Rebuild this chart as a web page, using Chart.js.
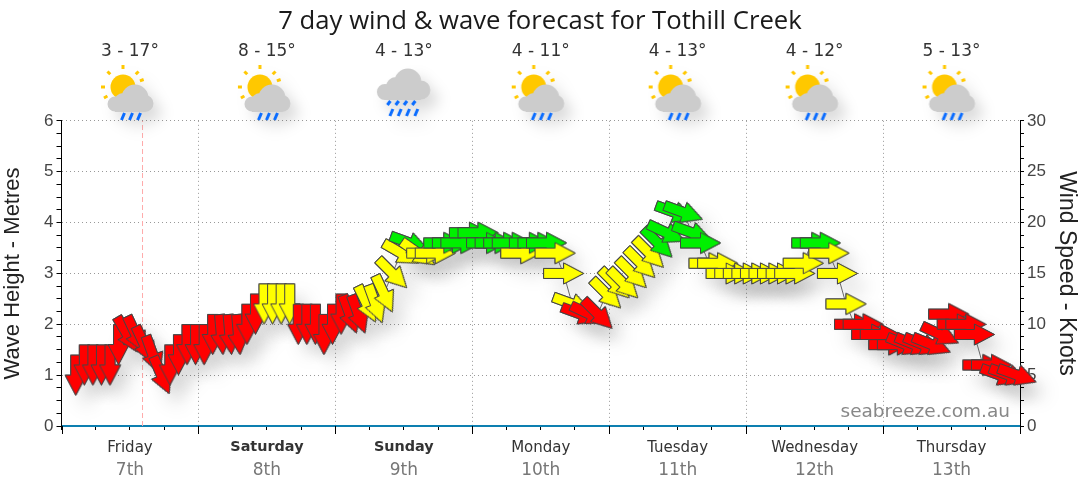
<!DOCTYPE html>
<html>
<head>
<meta charset="utf-8">
<title>7 day wind & wave forecast for Tothill Creek</title>
<script src="https://cdn.jsdelivr.net/npm/chart.js@4/dist/chart.umd.min.js"></script>
<style>
html, body { margin: 0; padding: 0; background: #fff; }
canvas { display: block; }
</style>
</head>
<body>
<canvas id="forecast" width="1080" height="490"></canvas>
<script>
var days = ["Friday", "Saturday", "Sunday", "Monday", "Tuesday", "Wednesday", "Thursday"];
var dates = ["7th", "8th", "9th", "10th", "11th", "12th", "13th"];
var boldDays = ["Saturday", "Sunday"];
var temps = ["3 - 17°", "8 - 15°", "4 - 13°", "4 - 11°", "4 - 13°", "4 - 12°", "5 - 13°"];
var heavyRainDays = ["Sunday"];

// hours since start of friday
var hours = [
    2.5, 4, 5.5, 7, 8.5, 10, 11.5, 13, 14.5, 16,
    17.5, 19, 20.5, 22, 23.5, 25, 26.5, 28, 29.5, 31,
    32.5, 34, 35.5, 37, 38.5, 40, 41.5, 43, 44.5, 46,
    47.5, 49, 50.5, 52, 53.5, 55, 56.5, 58, 59.5, 61,
    62.5, 64, 65.5, 67, 68.5, 70, 71.5, 73, 74.5, 76,
    77.5, 79, 80.5, 82, 83.5, 85, 86.5, 88, 89.5, 91,
    92.5, 94, 95.5, 97, 98.5, 100, 101.5, 103, 104.5, 106,
    107.5, 109, 110.5, 112, 113.5, 115, 116.5, 118, 119.5, 121,
    122.5, 124, 125.5, 127, 128.5, 130, 131.5, 133, 134.5, 136,
    137.5, 139, 140.5, 142, 143.5, 145, 146.5, 148, 149.5, 151,
    152.5, 154, 155.5, 157, 158.5, 160, 161.5, 163, 164.5, 166, 167.5
];

var knots = [
    5, 6, 6, 6, 6, 8, 9, 9, 8, 7,
    5, 6, 7, 8, 8, 8, 9, 9, 9, 9,
    10, 11, 12, 12, 12, 12, 10, 10, 10, 9,
    10, 11, 11, 11, 12, 12, 13, 15, 17, 18,
    17, 17, 17, 18, 18, 18, 19, 19, 18, 18,
    18, 18, 17, 18, 18, 18, 17, 15, 12, 11,
    11, 11, 13, 14, 14, 15, 16, 17, 18, 19,
    21, 21, 19, 18, 16, 16, 15, 15, 15, 15,
    15, 15, 15, 15, 15, 16, 18, 18, 17, 15,
    12, 10, 10, 9, 9, 8, 8, 8, 8, 8,
    8, 9, 11, 10, 10, 9, 6, 6, 5, 5, 5
];

// compass heading the arrow points to, 90 is east, 180 is south
var heading = [
    180, 180, 180, 180, 180, 180, 150, 155, 155, 160,
    157, 180, 180, 180, 180, 180, 180, 175, 175, 175,
    180, 180, 180, 180, 180, 180, 180, 180, 180, 180,
    180, 180, 160, 160, 154, 160, 155, 135, 120, 110,
    125, 90, 90, 90, 90, 90, 90, 90, 90, 90,
    90, 90, 90, 90, 90, 90, 90, 90, 110, 110,
    115, 135, 135, 135, 135, 135, 135, 135, 135, 115,
    110, 110, 110, 90, 90, 90, 90, 90, 90, 90,
    90, 90, 90, 90, 90, 90, 90, 90, 90, 90,
    90, 90, 90, 90, 90, 90, 90, 112, 112, 112,
    112, 115, 90, 90, 90, 90, 90, 90, 110, 110, 110
];

var nowHour = 14.2;

function makeArrow(color)
{
    var c = document.createElement("canvas");
    c.width = 47;
    c.height = 27;
    var g = c.getContext("2d");
    g.translate(23.5, 13.5);
    g.beginPath();
    g.moveTo(-20, -5);
    g.lineTo(0, -5);
    g.lineTo(0, -10.5);
    g.lineTo(20, 0);
    g.lineTo(0, 10.5);
    g.lineTo(0, 5);
    g.lineTo(-20, 5);
    g.closePath();
    g.fillStyle = color;
    g.fill();
    g.strokeStyle = "#444";
    g.lineWidth = 1;
    g.stroke();
    return c;
}

var redArrow = makeArrow("#ff0000");
var yellowArrow = makeArrow("#ffff00");
var greenArrow = makeArrow("#00f000");

function arrowStyle(ctx)
{
    var k = knots[ctx.dataIndex];
    if (k >= 18) return greenArrow;
    if (k >= 12) return yellowArrow;
    return redArrow;
}

function arrowRotation(ctx)
{
    return heading[ctx.dataIndex] - 90;
}

function circle(g, x, y, r)
{
    g.moveTo(x + r, y);
    g.arc(x, y, r, 0, Math.PI * 2);
}

function rain(g, x, y, len)
{
    g.moveTo(x + 1.5, y);
    g.lineTo(x - 1.5, y + len);
}

// icons are 70x70, middle of the canvas is the middle of the day column
function makeIcon(heavy)
{
    var c = document.createElement("canvas");
    c.width = 70;
    c.height = 70;
    var g = c.getContext("2d");
    g.translate(35, 35);
    var i;
    if (heavy) {
        g.fillStyle = "#cccccc";
        g.beginPath();
        circle(g, 4, -12, 13.5);
        circle(g, -8, -7, 10);
        circle(g, -19, -2, 8);
        circle(g, 17, -4, 9.5);
        g.rect(-19, -9, 36, 15);
        g.fill();
        g.strokeStyle = "#0a6cff";
        g.lineWidth = 3;
        g.beginPath();
        for (i = 0; i < 4; i++) {
            rain(g, -15 + i * 8.3, 7, 4);
            rain(g, -12.5 + i * 8.3, 15, 7);
        }
        g.stroke();
    } else {
        g.fillStyle = "#ffc800";
        g.beginPath();
        circle(g, -7, -8, 12.5);
        g.fill();
        g.strokeStyle = "#ffc800";
        g.lineWidth = 3;
        g.beginPath();
        var rays = [180, 225, 270, 315, 340, 150];
        for (i = 0; i < rays.length; i++) {
            var a = rays[i] * Math.PI / 180;
            g.moveTo(-7 + Math.cos(a) * 18, -8 + Math.sin(a) * 18);
            g.lineTo(-7 + Math.cos(a) * 22, -8 + Math.sin(a) * 22);
        }
        g.stroke();
        g.fillStyle = "#cccccc";
        g.beginPath();
        circle(g, 5, 3, 13.5);
        circle(g, -7, 7, 9);
        circle(g, -15, 9, 7.5);
        circle(g, 15, 8.5, 8.5);
        g.rect(-15, 6, 30, 11);
        g.fill();
        g.strokeStyle = "#0a6cff";
        g.lineWidth = 3;
        g.beginPath();
        for (i = 0; i < 3; i++) {
            rain(g, -7 + i * 8, 18, 7);
        }
        g.stroke();
    }
    return c;
}

var sunIcon = makeIcon(false);
var rainIcon = makeIcon(true);

var extras = {
    id: "extras",
    afterDraw: function(chart) {
        var g = chart.ctx;
        var x = chart.scales.x;
        var bottom = chart.chartArea.bottom;
        var i;

        // long ticks on the day boundaries
        g.save();
        g.strokeStyle = "#000";
        g.lineWidth = 1;
        g.beginPath();
        for (i = 0; i <= days.length; i++) {
            var px = Math.round(x.getPixelForValue(i * 24)) + 0.5;
            g.moveTo(px, bottom);
            g.lineTo(px, bottom + 8);
        }
        g.stroke();
        g.restore();

        for (i = 0; i < days.length; i++) {
            var mid = x.getPixelForValue(i * 24 + 12);
            g.save();
            g.shadowColor = "rgba(0,0,0,0.14)";
            g.shadowBlur = 14;
            g.shadowOffsetX = 8;
            g.shadowOffsetY = 9;
            var heavy = heavyRainDays.indexOf(days[i]) >= 0;
            g.drawImage(heavy ? rainIcon : sunIcon, mid - 35, heavy ? 59 : 60);
            g.restore();

            g.fillStyle = "#333";
            g.font = "17px 'DejaVu Sans'";
            g.textAlign = "center";
            g.textBaseline = "alphabetic";
            g.fillText(temps[i], mid, 56);
        }

        g.fillStyle = "#888";
        g.font = "18.5px 'DejaVu Sans'";
        g.textAlign = "right";
        g.fillText("seabreeze.com.au", 1010, 417);
    }
};

var arrowShadow = {
    id: "arrowShadow",
    beforeDatasetDraw: function(chart, args) {
        if (chart.data.datasets[args.index].label != "shadow") return;
        var g = chart.ctx;
        g.save();
        g.shadowColor = "rgba(0,0,0,0.12)";
        g.shadowBlur = 18;
        g.shadowOffsetX = 11;
        g.shadowOffsetY = 13;
    },
    afterDatasetDraw: function(chart, args) {
        if (chart.data.datasets[args.index].label != "shadow") return;
        chart.ctx.restore();
    }
};

function points()
{
    var out = [];
    for (var i = 0; i < hours.length; i++) {
        out.push({ x: hours[i], y: knots[i] });
    }
    return out;
}

function dayGrid(c)
{
    if (!c.tick) return "transparent";
    var v = c.tick.value;
    return (v % 24 === 0 && v > 0 && v < 168) ? "#999" : "transparent";
}

function waveGrid(c)
{
    if (!c.tick) return "transparent";
    var v = c.tick.value;
    return (v % 1 === 0 && v > 0) ? "#999" : "transparent";
}

function dayFont(c)
{
    var d = c.tick ? days[(c.tick.value - 12) / 24] : "";
    var bold = boldDays.indexOf(d) >= 0;
    return {
        family: "'DejaVu Sans'",
        size: bold ? 14.4 : 15,
        weight: bold ? "bold" : "normal"
    };
}

var chart = new Chart(document.getElementById("forecast"), {
    type: "scatter",
    data: {
        datasets: [
            {
                label: "arrows",
                order: 1,
                data: points(),
                yAxisID: "knots",
                showLine: true,
                clip: false,
                borderColor: "#666",
                borderWidth: 1,
                pointRadius: 20,
                pointStyle: arrowStyle,
                pointRotation: arrowRotation
            },
            {
                label: "shadow",
                order: 2,
                data: points(),
                yAxisID: "knots",
                showLine: false,
                clip: false,
                pointRadius: 20,
                pointStyle: arrowStyle,
                pointRotation: arrowRotation
            },
            {
                label: "now",
                order: 3,
                data: [{ x: nowHour, y: 0 }, { x: nowHour, y: 30 }],
                yAxisID: "knots",
                showLine: true,
                borderColor: "#ffaaaa",
                borderWidth: 1,
                borderDash: [5, 3],
                pointRadius: 0
            }
        ]
    },
    plugins: [extras, arrowShadow],
    options: {
        responsive: false,
        animation: false,
        events: [],
        layout: { padding: { bottom: 8 } },
        plugins: {
            legend: { display: false },
            tooltip: { enabled: false },
            title: {
                display: true,
                text: "7 day wind & wave forecast for Tothill Creek",
                color: "#1a1a1a",
                font: { family: "'Open Sans'", size: 25.7, weight: "normal" },
                padding: { top: 6, bottom: 84 }
            }
        },
        scales: {
            x: {
                type: "linear",
                position: "bottom",
                min: 0,
                max: 168,
                afterFit: function(s) { s.height = 34; },
                grid: { color: dayGrid, tickColor: "#000", tickLength: 4 },
                border: { color: "#0d7fb0", width: 2, dash: [1, 3] },
                ticks: {
                    autoSkip: false,
                    maxRotation: 0,
                    minRotation: 0,
                    stepSize: 6,
                    color: "#333",
                    font: dayFont,
                    padding: 9,
                    callback: function(v) {
                        return v % 24 === 12 ? days[(v - 12) / 24] : "";
                    }
                }
            },
            x2: {
                type: "linear",
                position: "bottom",
                min: 0,
                max: 168,
                afterFit: function(s) { s.height = 22; },
                grid: { display: false, drawTicks: false },
                border: { display: false },
                ticks: {
                    autoSkip: false,
                    maxRotation: 0,
                    minRotation: 0,
                    stepSize: 6,
                    color: "#777",
                    font: { family: "'DejaVu Sans'", size: 17 },
                    padding: 0,
                    callback: function(v) {
                        return v % 24 === 12 ? dates[(v - 12) / 24] : "";
                    }
                }
            },
            wave: {
                type: "linear",
                position: "left",
                min: 0,
                max: 6,
                afterFit: function(s) { s.width = 61.5; },
                title: {
                    display: true,
                    text: "Wave Height - Metres",
                    color: "#222",
                    font: { family: "'Liberation Sans'", size: 22 },
                    padding: 0
                },
                grid: { color: waveGrid, tickColor: "#000", tickLength: 5 },
                border: { color: "#000", width: 1, dash: [1, 3] },
                ticks: {
                    autoSkip: false,
                    stepSize: 0.25,
                    color: "#444",
                    font: { family: "'Liberation Sans'", size: 17 },
                    padding: 3,
                    callback: function(v) { return v % 1 === 0 ? v : ""; }
                }
            },
            knots: {
                type: "linear",
                position: "right",
                min: 0,
                max: 30,
                afterFit: function(s) { s.width = 60; },
                title: {
                    display: true,
                    text: "Wind Speed - Knots",
                    color: "#222",
                    font: { family: "'Liberation Sans'", size: 23 },
                    padding: 0
                },
                grid: { drawOnChartArea: false, tickColor: "#000", tickLength: 4 },
                border: { color: "#000", width: 1 },
                ticks: {
                    autoSkip: false,
                    stepSize: 1.25,
                    color: "#444",
                    font: { family: "'Liberation Sans'", size: 17 },
                    padding: 3,
                    callback: function(v) { return v % 5 === 0 ? v : ""; }
                }
            }
        }
    }
});
</script>
</body>
</html>
